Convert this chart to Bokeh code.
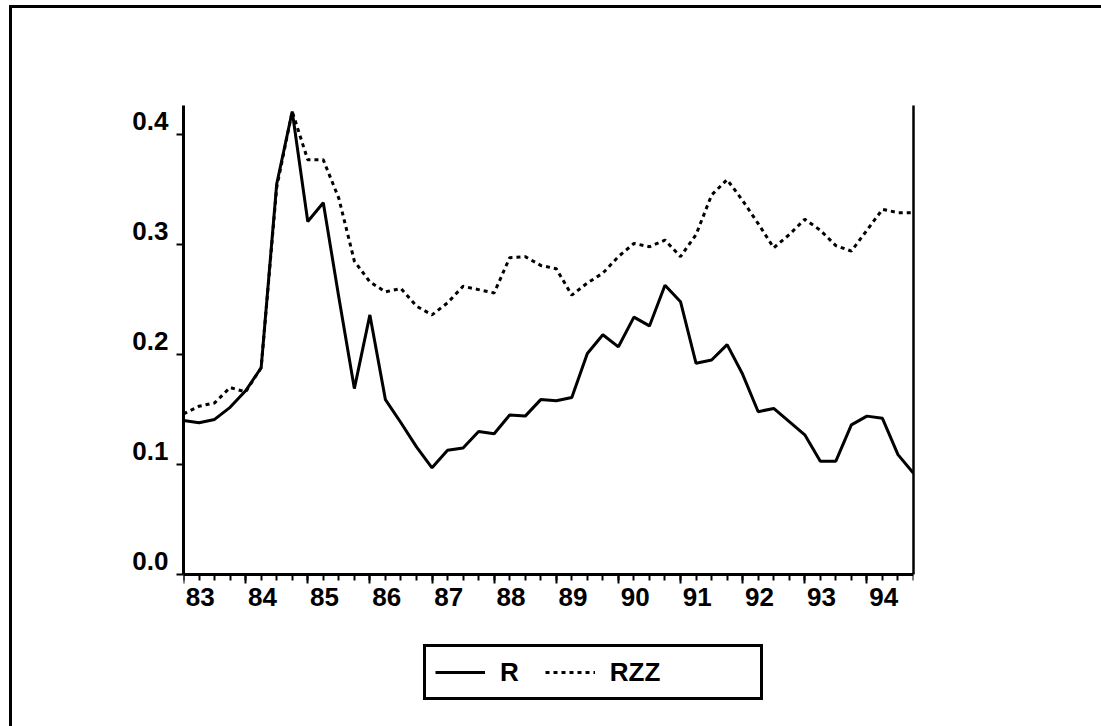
from bokeh.plotting import figure
from bokeh.models import (Range1d, LinearAxis, FixedTicker, CustomJSTickFormatter,
                          Legend, LegendItem, ColumnDataSource, GlobalInlineStyleSheet)
from bokeh.embed import file_html
from bokeh.resources import INLINE

# ---- data ----
years = list(range(83, 95))
quarters = [f"{y}Q{q}" for y in years for q in range(1, 5)]
r = [0.140, 0.138, 0.141, 0.152, 0.167, 0.188, 0.355, 0.421,
     0.321, 0.338, 0.252, 0.169, 0.236, 0.159, 0.138, 0.116,
     0.097, 0.113, 0.115, 0.130, 0.128, 0.145, 0.144, 0.159,
     0.158, 0.161, 0.201, 0.218, 0.207, 0.234, 0.226, 0.263,
     0.248, 0.192, 0.195, 0.209, 0.182, 0.148, 0.151, 0.139,
     0.127, 0.103, 0.103, 0.136, 0.144, 0.142, 0.109, 0.092]
rzz = [0.146, 0.153, 0.156, 0.170, 0.166, 0.188, 0.352, 0.421,
       0.377, 0.377, 0.342, 0.285, 0.266, 0.257, 0.260, 0.244,
       0.236, 0.247, 0.262, 0.259, 0.256, 0.288, 0.289, 0.281,
       0.278, 0.254, 0.265, 0.274, 0.289, 0.301, 0.298, 0.304,
       0.289, 0.309, 0.345, 0.359, 0.340, 0.319, 0.297, 0.309,
       0.323, 0.313, 0.299, 0.294, 0.313, 0.332, 0.329, 0.329]
y_ticks = [0.0, 0.1, 0.2, 0.3, 0.4]
series_names = ["R", "RZZ"]

# quarterly position on a numeric year axis
x = [int(s[:2]) + (int(s[3]) - 1) / 4 for s in quarters]

FONT = "Liberation Sans"
Y_TOP = 0.4264           # top of the value axis
Y_BOTTOM = -0.1191       # room under the plot for the legend
X_LABEL_SHIFT = 0.27     # year labels sit just right of the year tick
X_LABEL_LEVEL = -0.0345  # vertical placement of the year labels
Y_LABEL_SHIFT = 0.0127   # value labels sit just above the value tick

# outer page frame: top and left rules painted behind a transparent plot border
PAGE_CSS = """
body {
  background-color: #ffffff !important;
  background-image: linear-gradient(#000000, #000000), linear-gradient(#000000, #000000) !important;
  background-size: 1092px 3px, 3px 721px !important;
  background-position: 9px 5px, 9px 5px !important;
  background-repeat: no-repeat !important;
}
"""

p = figure(width=1100, height=725, output_backend="svg", toolbar_location=None,
           x_range=Range1d(83, 94.75), y_range=Range1d(Y_BOTTOM, Y_TOP),
           x_axis_type=None, y_axis_type=None,
           min_border_left=183, min_border_top=105, min_border_right=187,
           min_border_bottom=20)
p.outline_line_color = None
p.background_fill_color = "white"
p.border_fill_color = None
p.stylesheets = [GlobalInlineStyleSheet(css=PAGE_CSS)]


def hide_labels(ax):
    ax.major_label_text_color = None
    ax.major_label_text_font_size = "1px"
    ax.major_label_standoff = 0


# x axis line + ticks, drawn at value 0 (ticks point down)
xa = LinearAxis(ticker=FixedTicker(ticks=years, minor_ticks=x), fixed_location=0)
xa.axis_line_width = 3
xa.axis_line_color = "black"
xa.major_tick_line_width = 2
xa.major_tick_out = 0
xa.major_tick_in = 9
xa.minor_tick_line_width = 2
xa.minor_tick_out = 0
xa.minor_tick_in = 6
hide_labels(xa)
p.add_layout(xa, "above")

# x axis year labels
xl = LinearAxis(ticker=FixedTicker(ticks=[y + X_LABEL_SHIFT for y in years], minor_ticks=[]),
                formatter=CustomJSTickFormatter(code=f"return String(Math.round(tick - {X_LABEL_SHIFT}));"),
                fixed_location=X_LABEL_LEVEL)
xl.axis_line_color = None
xl.major_tick_line_color = None
xl.minor_tick_line_color = None
xl.major_tick_out = 0
xl.minor_tick_out = 0
xl.major_tick_in = 0
xl.minor_tick_in = 0
xl.major_label_standoff = 6
xl.major_label_text_font = FONT
xl.major_label_text_font_style = "bold"
xl.major_label_text_font_size = "26px"
xl.major_label_text_color = "black"
p.add_layout(xl, "above")

# y axis line + ticks
ya = LinearAxis(ticker=FixedTicker(ticks=y_ticks, minor_ticks=[]), bounds=(0, Y_TOP))
ya.axis_line_width = 3
ya.axis_line_color = "black"
ya.major_tick_line_width = 2
ya.major_tick_out = 7
ya.major_tick_in = 0
ya.minor_tick_line_color = None
ya.minor_tick_out = 0
hide_labels(ya)
p.add_layout(ya, "left")

# y axis value labels
yl = LinearAxis(ticker=FixedTicker(ticks=[v + Y_LABEL_SHIFT for v in y_ticks], minor_ticks=[]),
                formatter=CustomJSTickFormatter(code=f"return (tick - {Y_LABEL_SHIFT}).toFixed(1);"))
yl.axis_line_color = None
yl.major_tick_line_color = None
yl.minor_tick_line_color = None
yl.major_tick_out = 0
yl.minor_tick_out = 0
yl.major_tick_in = 0
yl.minor_tick_in = 0
yl.major_label_standoff = 8
yl.major_label_text_font = FONT
yl.major_label_text_font_style = "bold"
yl.major_label_text_font_size = "26px"
yl.major_label_text_color = "black"
p.add_layout(yl, "left")

# right frame line of the plot
ra = LinearAxis(ticker=FixedTicker(ticks=[], minor_ticks=[]), bounds=(0, Y_TOP))
ra.axis_line_width = 2.5
ra.axis_line_color = "black"
ra.major_tick_line_color = None
ra.minor_tick_line_color = None
ra.major_tick_out = 0
ra.minor_tick_out = 0
hide_labels(ra)
p.add_layout(ra, "right")

src = ColumnDataSource(dict(x=x, r=r, rzz=rzz))
lr = p.line("x", "r", source=src, line_color="black", line_width=3)
lz = p.line("x", "rzz", source=src, line_color="black", line_width=3, line_dash="4 4")
pad = p.line(x=[], y=[], line_alpha=0)

legend = Legend(items=[LegendItem(label=series_names[0], renderers=[lr]),
                       LegendItem(label=series_names[1], renderers=[lz]),
                       LegendItem(label="", renderers=[pad])],
                location=(240, 5), orientation="horizontal")
legend.margin = 0
legend.padding = 9
legend.spacing = 26
legend.glyph_width = 50
legend.glyph_height = 32
legend.label_width = 0
legend.label_standoff = 15
legend.border_line_color = "black"
legend.border_line_alpha = 1
legend.border_line_width = 3
legend.background_fill_color = "white"
legend.background_fill_alpha = 1
legend.label_text_font = FONT
legend.label_text_font_style = "bold"
legend.label_text_font_size = "26px"
legend.label_text_color = "black"
p.add_layout(legend, "center")

open("out.html", "w").write(file_html(p, INLINE))
